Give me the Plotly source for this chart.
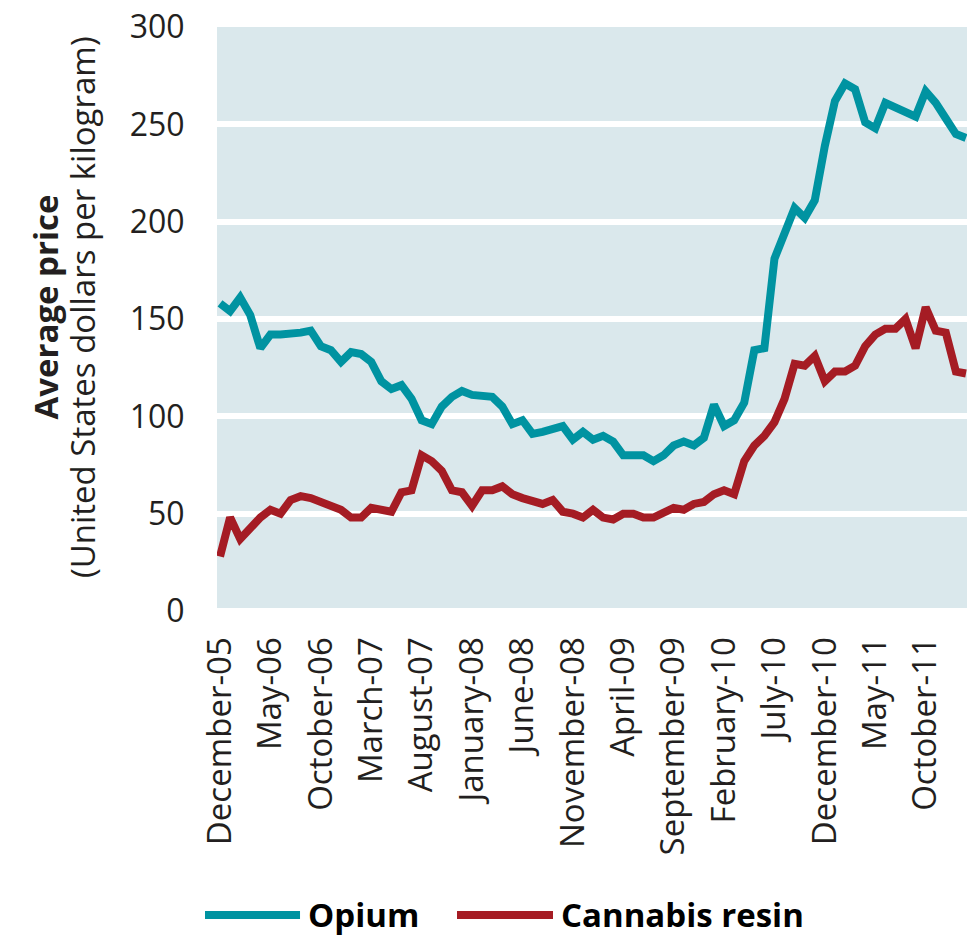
import pandas as pd
import plotly.graph_objects as go

# Monthly observations, December 2005 - February 2012
months = [d.strftime("%B-%y") for d in pd.date_range("2005-12-01", "2012-02-01", freq="MS")]

opium = [158, 154, 161, 152, 135, 142, 142, 142, 143, 144,
         136, 134, 128, 133, 132, 128, 118, 114, 116, 109,
         98, 96, 105, 110, 113, 111, 111, 110, 105, 96,
         98, 91, 92, 94, 95, 88, 92, 88, 90, 87,
         80, 80, 80, 77, 80, 85, 87, 85, 89, 106,
         95, 98, 107, 134, 135, 181, 194, 207, 202, 211,
         239, 262, 271, 268, 251, 248, 261, 259, 256, 254,
         267, 261, 253, 245, 243]

cannabis = [28, 48, 37, 43, 48, 52, 50, 57, 59, 58,
            56, 53, 52, 48, 48, 53, 52, 51, 61, 62,
            80, 77, 72, 62, 61, 54, 62, 62, 64, 60,
            58, 56, 55, 57, 51, 50, 48, 52, 48, 47,
            50, 50, 48, 48, 50, 53, 52, 55, 56, 60,
            62, 60, 77, 85, 90, 97, 109, 127, 126, 131,
            118, 123, 123, 126, 136, 142, 145, 145, 150, 135,
            156, 144, 143, 123, 122]

tick_labels = months[::5]
y_ticks = [0, 50, 100, 150, 200, 250, 300]

series_names = ["Opium", "Cannabis resin"]
colors = ["#0093A1", "#A51C24"]

FONT = "Open Sans"
TXT = "#231F20"

fig = go.Figure()
for name, vals, col in zip(series_names, [opium, cannabis], colors):
    fig.add_trace(go.Scatter(x=months, y=vals, mode="lines", name=name,
                             line=dict(color=col, width=8), showlegend=False))

fig.update_layout(
    width=967, height=936,
    margin=dict(l=217, r=0, t=27, b=325, autoexpand=False),
    paper_bgcolor="white", plot_bgcolor="#DAE8EC",
    font=dict(family=FONT, size=33, color=TXT),
)
fig.update_xaxes(type="category", categoryorder="array", categoryarray=months,
                 range=[-0.3, 74.1], tickmode="array", tickvals=tick_labels,
                 ticktext=tick_labels, tickangle=-90, showgrid=False,
                 zeroline=False, showline=False, ticks="outside", ticklen=12,
                 tickcolor="rgba(0,0,0,0)", tickfont=dict(size=33, color=TXT),
                 ticklabeloverflow="allow")
fig.update_yaxes(range=[0, 300], tickvals=y_ticks, showgrid=True,
                 gridcolor="white", gridwidth=6, zeroline=True,
                 zerolinecolor="white", zerolinewidth=6, showline=False,
                 ticks="outside", ticklen=25, tickcolor="rgba(0,0,0,0)",
                 tickfont=dict(size=32, color=TXT), ticklabeloverflow="allow")

# Y-axis title (two lines)
fig.add_annotation(text="<b>Average price</b>", xref="paper", yref="paper",
                   x=-0.229, y=0.52, xanchor="center", yanchor="middle",
                   textangle=-90, showarrow=False, font=dict(size=33, color=TXT))
fig.add_annotation(text="(United States dollars per kilogram)", xref="paper", yref="paper",
                   x=-0.179, y=0.52, xanchor="center", yanchor="middle",
                   textangle=-90, showarrow=False, font=dict(size=33, color=TXT))

# Legend
leg_y = -0.5205
leg_items = [(-0.016, 0.1107, 0.118), (0.32, 0.448, 0.456)]
for (x0, x1, xt), name, col in zip(leg_items, series_names, colors):
    fig.add_shape(type="line", xref="paper", yref="paper", x0=x0, x1=x1,
                  y0=leg_y, y1=leg_y, line=dict(color=col, width=8))
    fig.add_annotation(text=f"<b>{name}</b>", xref="paper", yref="paper",
                       x=xt, y=leg_y, xanchor="left", yanchor="middle",
                       showarrow=False, font=dict(size=33, color="#000"))

fig.write_html("out.html", config={"displayModeBar": False},
               post_script="document.body.style.margin='0';document.body.style.overflow='hidden';")
